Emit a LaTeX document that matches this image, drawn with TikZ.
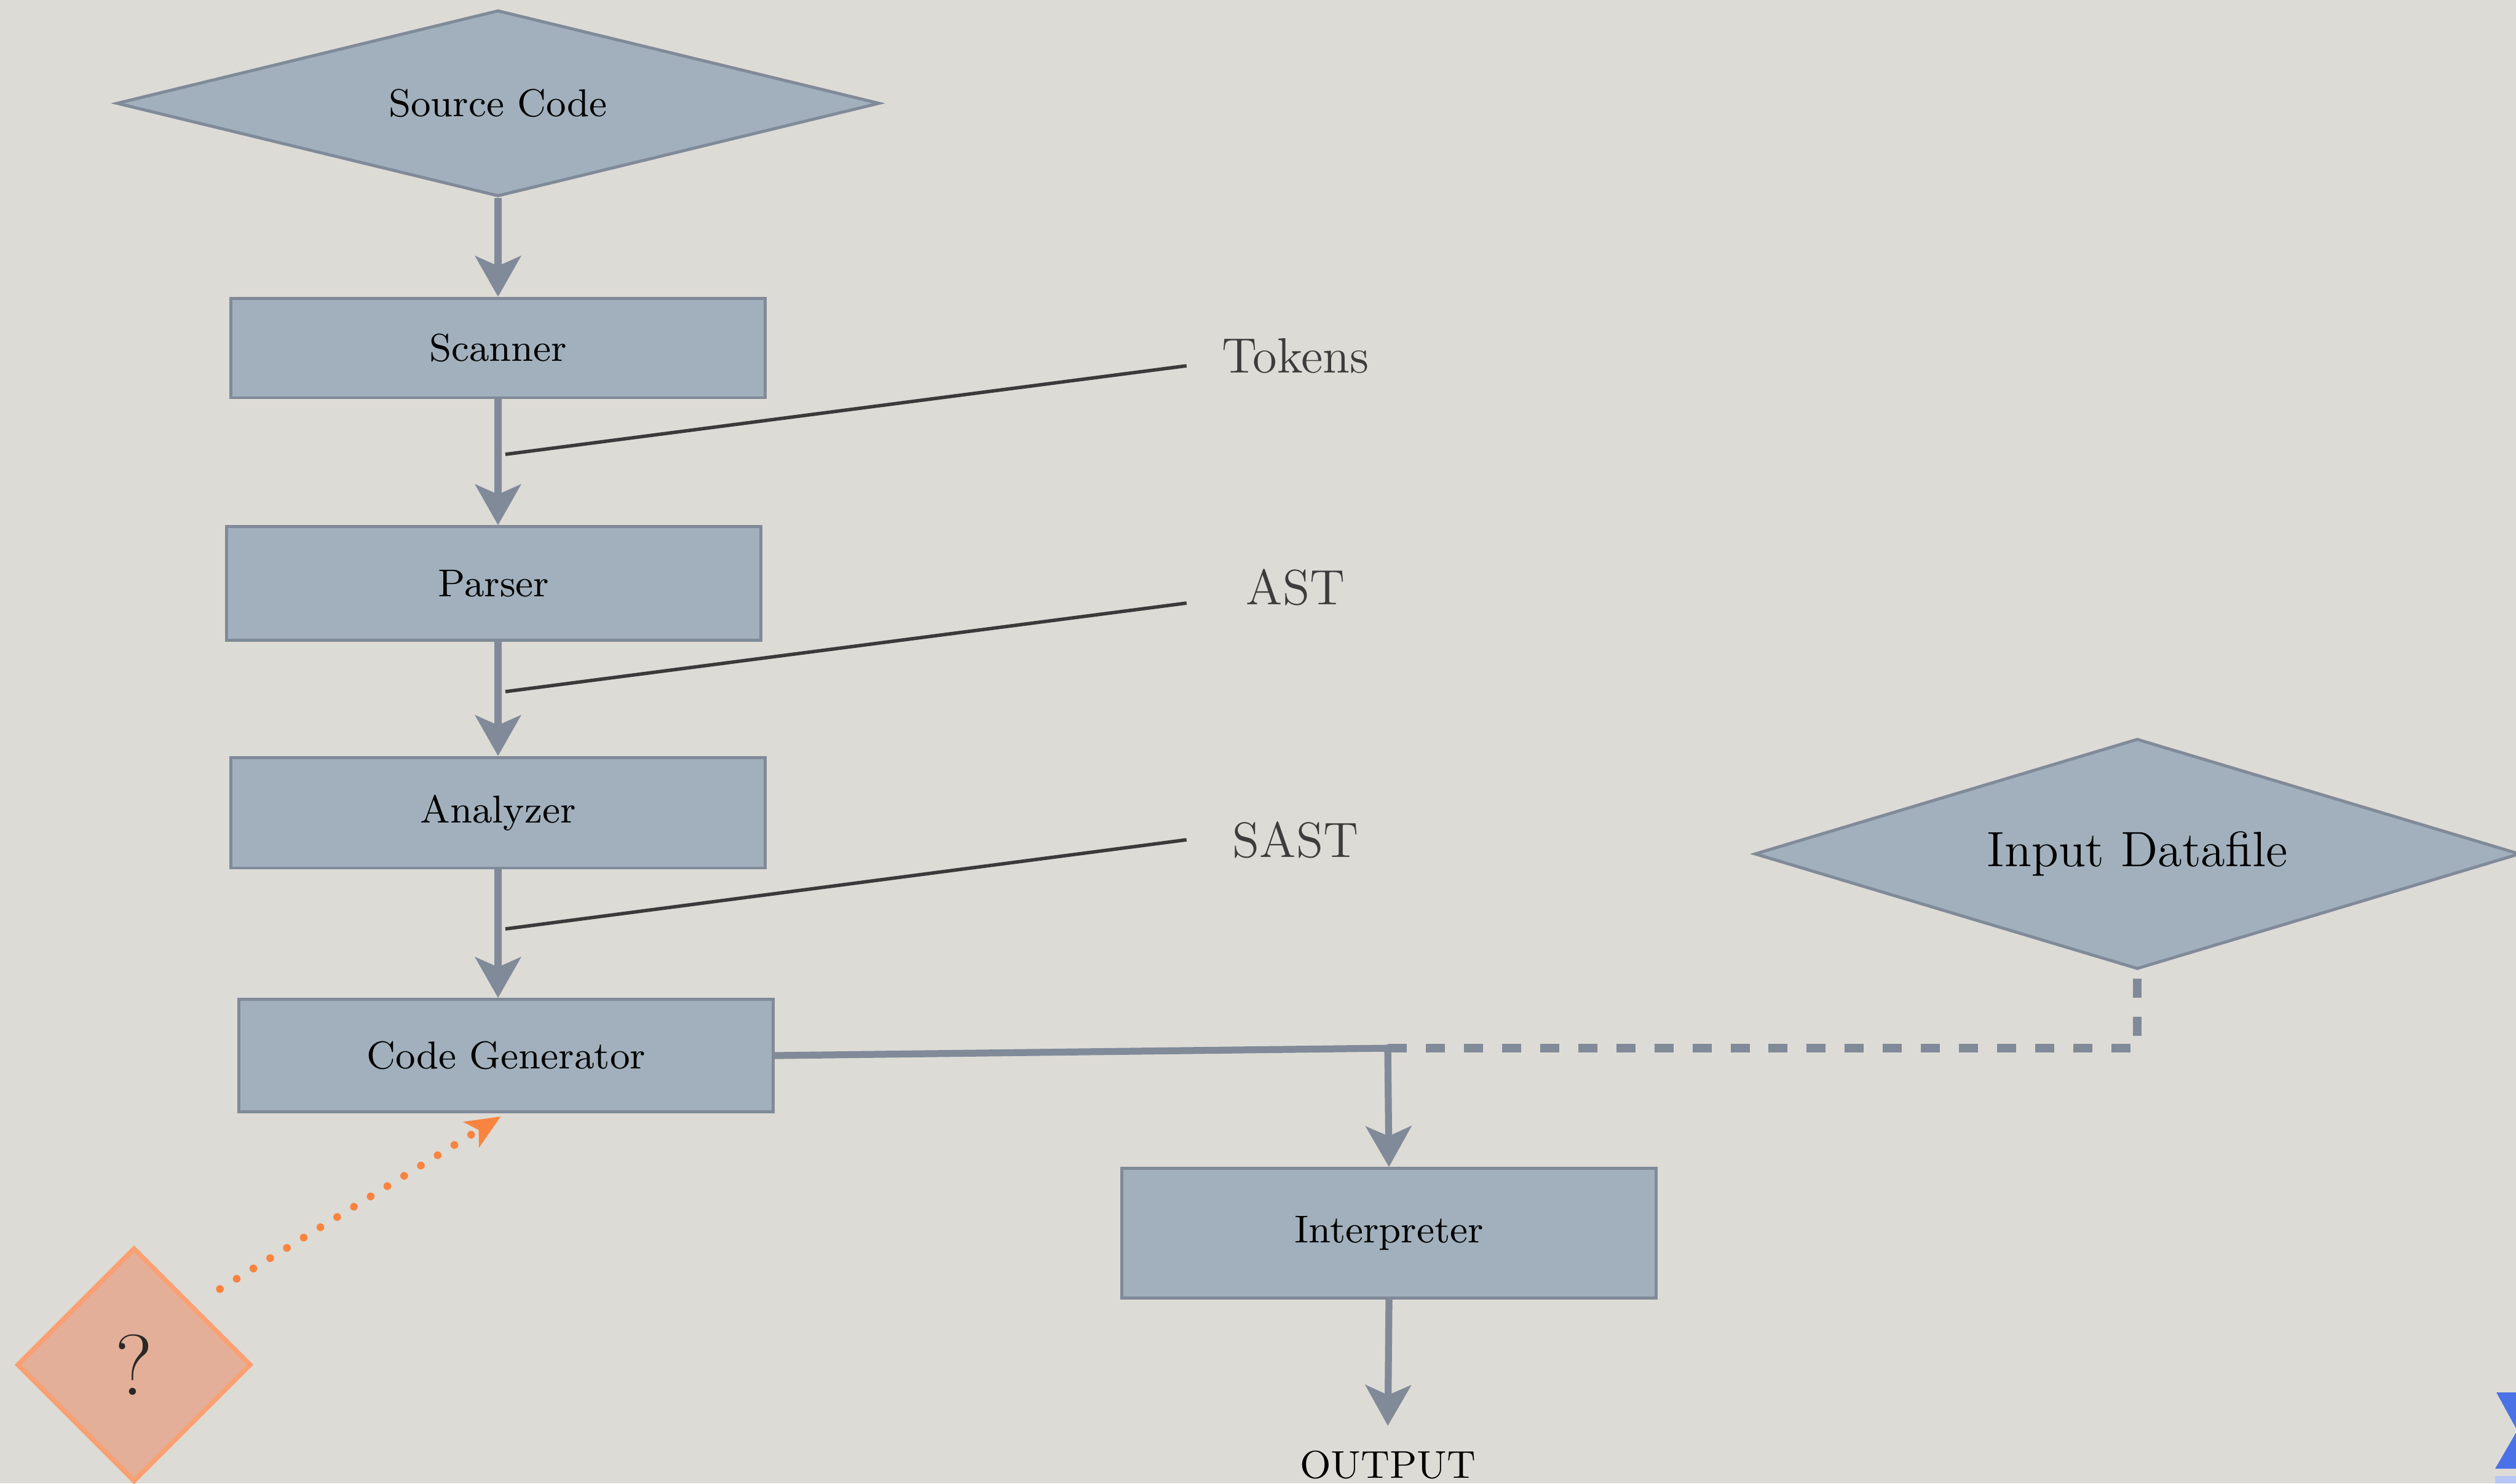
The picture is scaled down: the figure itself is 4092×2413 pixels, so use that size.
\documentclass[tikz,border=0pt]{standalone}
\usetikzlibrary{shapes.geometric,arrows.meta}
\definecolor{paper}{RGB}{221,219,213}
\definecolor{boxfill}{RGB}{161,176,188}
\definecolor{slate}{RGB}{128,138,153}
\definecolor{leadcol}{RGB}{58,58,58}
\definecolor{tagtext}{RGB}{60,60,60}
\definecolor{hintcol}{RGB}{249,132,64}
\definecolor{qfill}{RGB}{228,175,152}
\definecolor{qdraw}{RGB}{250,160,115}
\definecolor{qtext}{RGB}{40,40,40}
\definecolor{navblue}{RGB}{74,114,230}
\begin{document}
\begin{tikzpicture}[x=0.005cm,y=-0.005cm,
    stage/.style={draw=slate,fill=boxfill,line width=0.7pt,minimum width=4.345cm,font=\fontsize{9}{11}\selectfont},
    store/.style={diamond,draw=slate,fill=boxfill,line width=0.7pt,inner sep=0pt},
    flow/.style={draw=slate,line width=1.6pt,-{Stealth[length=3.3mm,width=3.7mm,inset=0.8mm]}},
    feed/.style={draw=slate,line width=2.1pt,dash pattern=on 1.55mm off 1.55mm},
    tag/.style={font=\fontsize{11.5}{14}\selectfont,text=tagtext,minimum width=1.76cm},
    leader/.style={draw=leadcol,line width=0.8pt},
    hint/.style={draw=hintcol,line width=1.8pt,line cap=round,dash pattern=on 0pt off 1.6mm,-{Stealth[length=2.8mm,width=2.4mm,inset=0.7mm]}}]
        \useasboundingbox (0,0) rectangle (4092,2413);
        \clip (0,0) rectangle (4092,2413);
        \fill[paper] (0,0) rectangle (4092,2413);
        %
        \node[store,shape aspect=4.1,minimum width=6.21cm,minimum height=1.515cm,font=\fontsize{9}{11}\selectfont] (source) at (810,168) {Source Code};
        \node[stage,minimum height=0.81cm] (scanner) at (810,566) {Scanner};
        \node[stage,minimum height=0.925cm] (parser) at (803,949) {Parser};
        \node[stage,minimum height=0.9cm] (analyzer) at (810,1322) {Analyzer};
        \node[stage,minimum height=0.915cm] (codegen) at (823,1717) {Code Generator};
        \node[stage,minimum height=1.055cm] (interp) at (2259,2006) {Interpreter};
        \node[font=\fontsize{9}{11}\selectfont] (output) at (2257,2383) {OUTPUT};
        \node[store,shape aspect=3.3,minimum width=6.23cm,minimum height=1.875cm,font=\fontsize{11.5}{14}\selectfont] (input) at (3476,1389) {Input Datafile};
        \node[diamond,draw=qdraw,fill=qfill,line width=1.1pt,minimum width=1.905cm,minimum height=1.905cm,inner sep=0pt,font=\fontsize{20}{24}\selectfont,text=qtext] (quest) at (218,2220) {?};
        %
        \node[tag] (tokens) at (2107,579) {Tokens};
        \node[tag] (ast) at (2107,955) {AST};
        \node[tag] (sast) at (2107,1366) {SAST};
        \coordinate (tokpt) at (822,739);
        \coordinate (astpt) at (822,1125);
        \coordinate (sastpt) at (822,1511);
        \draw[leader] (tokpt) -- ([yshift=-0.08cm]tokens.west);
        \draw[leader] (astpt) -- ([yshift=-0.13cm]ast.west);
        \draw[leader] (sastpt) -- (sast.west);
        %
        \draw[flow] (source.south) -- (scanner.north);
        \draw[flow] (scanner.south) -- (scanner.south |- parser.north);
        \draw[flow] (parser.south -| analyzer.north) -- (analyzer.north);
        \draw[flow] (analyzer.south) -- (analyzer.south |- codegen.north);
        %
        \coordinate (split) at (2257,1705);
        \draw[flow] (codegen.east) -- (split) -- (interp.north);
        \draw[feed] (split) -- (split -| input.south) -- (input.south);
        \draw[flow,shorten >=0.08cm] (interp.south) -- (output.north);
        \draw[hint,shorten <=0.25cm,shorten >=0.05cm] (quest.north east) -- (codegen.south);
        %
        \fill[navblue] (4060,2265) -- (4200,2265) -- (4200,2389) -- (4058,2389) -- (4094,2327) -- cycle;
        \fill[navblue!40] (4058,2401) rectangle (4092,2413);
\end{tikzpicture}
\end{document}
